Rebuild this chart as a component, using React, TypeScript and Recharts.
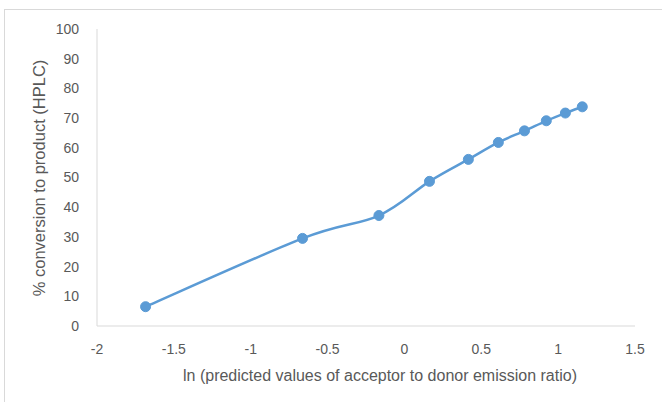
import { LineChart, Line, XAxis, YAxis } from "recharts";

const lnRatio = [-1.684, -0.663, -0.166, 0.163, 0.416, 0.611, 0.781, 0.923, 1.047, 1.157];
const conversion = [6.5, 29.5, 37.2, 48.7, 56.1, 61.8, 65.7, 69.1, 71.7, 73.8];
const xTicks = [-2, -1.5, -1, -0.5, 0, 0.5, 1, 1.5];
const yTicks = [0, 10, 20, 30, 40, 50, 60, 70, 80, 90, 100];

const data = lnRatio.map((x, i) => ({ x, y: conversion[i] }));

const font = "Liberation Sans, Arial, sans-serif";
const tickStyle = { fill: "#595959", fontSize: 14, fontFamily: font };

// Excel-like smoothed line (Catmull-Rom style bezier)
const excelSmooth = (context: any) => {
  let pts: [number, number][] = [];
  return {
    areaStart() {},
    areaEnd() {},
    lineStart() {
      pts = [];
    },
    point(x: number, y: number) {
      pts.push([+x, +y]);
    },
    lineEnd() {
      if (!pts.length) return;
      context.moveTo(pts[0][0], pts[0][1]);
      for (let i = 0; i < pts.length - 1; i++) {
        const p0 = pts[Math.max(i - 1, 0)];
        const p1 = pts[i];
        const p2 = pts[i + 1];
        const p3 = pts[Math.min(i + 2, pts.length - 1)];
        context.bezierCurveTo(
          p1[0] + (p2[0] - p0[0]) / 6,
          p1[1] + (p2[1] - p0[1]) / 6,
          p2[0] - (p3[0] - p1[0]) / 6,
          p2[1] - (p3[1] - p1[1]) / 6,
          p2[0],
          p2[1]
        );
      }
    },
  };
};

export default function App() {
  return (
    <div style={{ position: "absolute", left: 0, top: 0, width: 662, height: 402, background: "#fff" }}>
      <div
        style={{
          position: "absolute",
          left: 4,
          top: 9,
          width: 670,
          height: 400,
          borderLeft: "1px solid #d9d9d9",
          borderTop: "1px solid #d9d9d9",
        }}
      />
      <LineChart width={662} height={402} data={data} margin={{ top: 29, right: 27, bottom: 46, left: 20 }}>
        <XAxis
          dataKey="x"
          type="number"
          domain={[-2, 1.5]}
          ticks={xTicks}
          height={30}
          stroke="#d9d9d9"
          tickLine={false}
          tick={tickStyle}
          tickMargin={12}
          label={() => (
            <text x={380} y={381} textAnchor="middle" fill="#595959" fontSize={16} fontFamily={font}>
              ln (predicted values of acceptor to donor emission ratio)
            </text>
          )}
        />
        <YAxis
          type="number"
          domain={[0, 100]}
          ticks={yTicks}
          stroke="#d9d9d9"
          tickLine={false}
          tick={tickStyle}
          tickMargin={12}
          width={77}
          label={() => (
            <text x={39} y={178} transform="rotate(-90 39 178)" textAnchor="middle" dominantBaseline="central" fill="#595959" fontSize={16.5} fontFamily={font}>
              % conversion to product  (HPLC)
            </text>
          )}
        />
        <Line
          dataKey="y"
          type={excelSmooth as any}
          stroke="#5b9bd5"
          strokeWidth={2.5}
          dot={{ r: 5, fill: "#5b9bd5", stroke: "#5b9bd5", strokeWidth: 1 }}
          isAnimationActive={false}
        />
      </LineChart>
    </div>
  );
}
